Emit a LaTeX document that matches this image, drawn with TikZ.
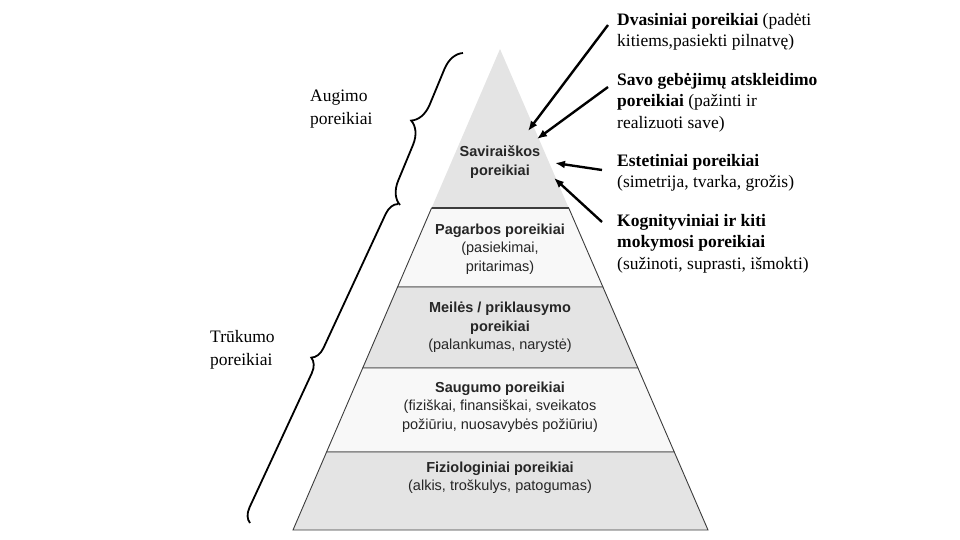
\documentclass[tikz,border=0pt]{standalone}
\usepackage{fontspec}
\setmainfont{Liberation Serif}
\newfontfamily\pyrfont{Liberation Sans}
\usepackage{tikz}
\usetikzlibrary{arrows.meta,calc,positioning,decorations.pathreplacing}
\definecolor{lvlgray}{RGB}{228,228,228}
\definecolor{lvlwhite}{RGB}{248,248,248}
\definecolor{edgegray}{RGB}{60,60,60}
\tikzset{
  lvldark/.style={fill=lvlgray, draw=edgegray, line width=0.9pt},
  lvllight/.style={fill=lvlwhite, draw=edgegray, line width=0.9pt},
  lvltext/.style={font=\pyrfont\fontsize{14.5}{18.5}\selectfont, align=center, text=black!85},
  needtext/.style={font=\fontsize{17.5}{21.5}\selectfont, align=left, inner sep=0pt},
  grouplabel/.style={font=\fontsize{17.5}{23}\selectfont, align=left, anchor=west, inner sep=0pt},
  pointer/.style={-{Latex[length=10pt,width=8pt]}, line width=2.4pt},
  grpbrace/.style={decorate, decoration={brace, amplitude=#1}, line width=1.8pt}
}

\begin{document}
\begin{tikzpicture}[x=1pt, y=-1pt]
    \useasboundingbox (0,0) rectangle (960,540);

    % Pyramid corners
    \coordinate (apex) at (500,49);
    \coordinate (bl) at (293,530);
    \coordinate (br) at (708,530);
    \coordinate (l1) at ($(apex)!0.3306!(bl)$);
    \coordinate (r1) at ($(apex)!0.3306!(br)$);
    \coordinate (l2) at ($(apex)!0.4948!(bl)$);
    \coordinate (r2) at ($(apex)!0.4948!(br)$);
    \coordinate (l3) at ($(apex)!0.6632!(bl)$);
    \coordinate (r3) at ($(apex)!0.6632!(br)$);
    \coordinate (l4) at ($(apex)!0.8378!(bl)$);
    \coordinate (r4) at ($(apex)!0.8378!(br)$);

    % Levels
    \fill[lvlgray] (apex) -- (l1) -- (r1) -- cycle;
    \path[lvllight] (l1) -- (r1) -- (r2) -- (l2) -- cycle;
    \path[lvldark] (l2) -- (r2) -- (r3) -- (l3) -- cycle;
    \path[lvllight] (l3) -- (r3) -- (r4) -- (l4) -- cycle;
    \path[lvldark] (l4) -- (r4) -- (br) -- (bl) -- cycle;
    \draw[edgegray, line width=1.6pt] (l1) -- (r1);

    % Level texts
    \node[lvltext] (self) at (500,162) {\textbf{Saviraiškos}\\\textbf{poreikiai}};
    \node[lvltext] (esteem) at (500,249) {\textbf{Pagarbos poreikiai}\\(pasiekimai,\\pritarimas)};
    \node[lvltext] (love) at (500,327.5) {\textbf{Meilės / priklausymo}\\\textbf{poreikiai}\\(palankumas, narystė)};
    \node[lvltext] (safety) at (500,407) {\textbf{Saugumo poreikiai}\\(fiziškai, finansiškai, sveikatos\\požiūriu, nuosavybės požiūriu)};
    \node[lvltext] (physio) at (500,477.5) {\textbf{Fiziologiniai poreikiai}\\(alkis, troškulys, patogumas)};

    % Growth needs on the right
    \node[needtext, anchor=north west] (spirit) at (617,13) {\textbf{Dvasiniai poreikiai} (padėti\\kitiems,pasiekti pilnatvę)};
    \node[needtext, below=22pt of spirit.south west, anchor=north west] (abil) {\textbf{Savo gebėjimų atskleidimo}\\\textbf{poreikiai} (pažinti ir\\realizuoti save)};
    \node[needtext, below=22pt of abil.south west, anchor=north west] (aesth) {\textbf{Estetiniai poreikiai}\\(simetrija, tvarka, grožis)};
    \node[needtext, below=22pt of aesth.south west, anchor=north west] (cogn) {\textbf{Kognityviniai ir kiti}\\\textbf{mokymosi poreikiai}\\(sužinoti, suprasti, išmokti)};

    % Arrows
    \coordinate (spirit-t) at (608,25);
    \coordinate (spirit-h) at (528,131);
    \coordinate (abil-t) at (608,87);
    \coordinate (abil-h) at (537,139);
    \coordinate (aesth-t) at (602,170);
    \coordinate (aesth-h) at (555,163);
    \coordinate (cogn-t) at (602,222);
    \coordinate (cogn-h) at (554,178);
    \draw[pointer] (spirit-t) -- (spirit-h);
    \draw[pointer] (abil-t) -- (abil-h);
    \draw[pointer] (aesth-t) -- (aesth-h);
    \draw[pointer] (cogn-t) -- (cogn-h);

    % Braces and groups
    \coordinate (grow-a) at (400,205);
    \coordinate (grow-b) at (463,53);
    \draw[grpbrace=22pt] (grow-a) -- (grow-b);
    \node[grouplabel] (grow) at (310,109.5) {Augimo\\poreikiai};

    \coordinate (lack-a) at (250,523);
    \coordinate (lack-b) at (398,204);
    \draw[grpbrace=14pt] (lack-a) -- (lack-b);
    \node[grouplabel] (lack) at (210,349.5) {Trūkumo\\poreikiai};

\end{tikzpicture}
\end{document}
